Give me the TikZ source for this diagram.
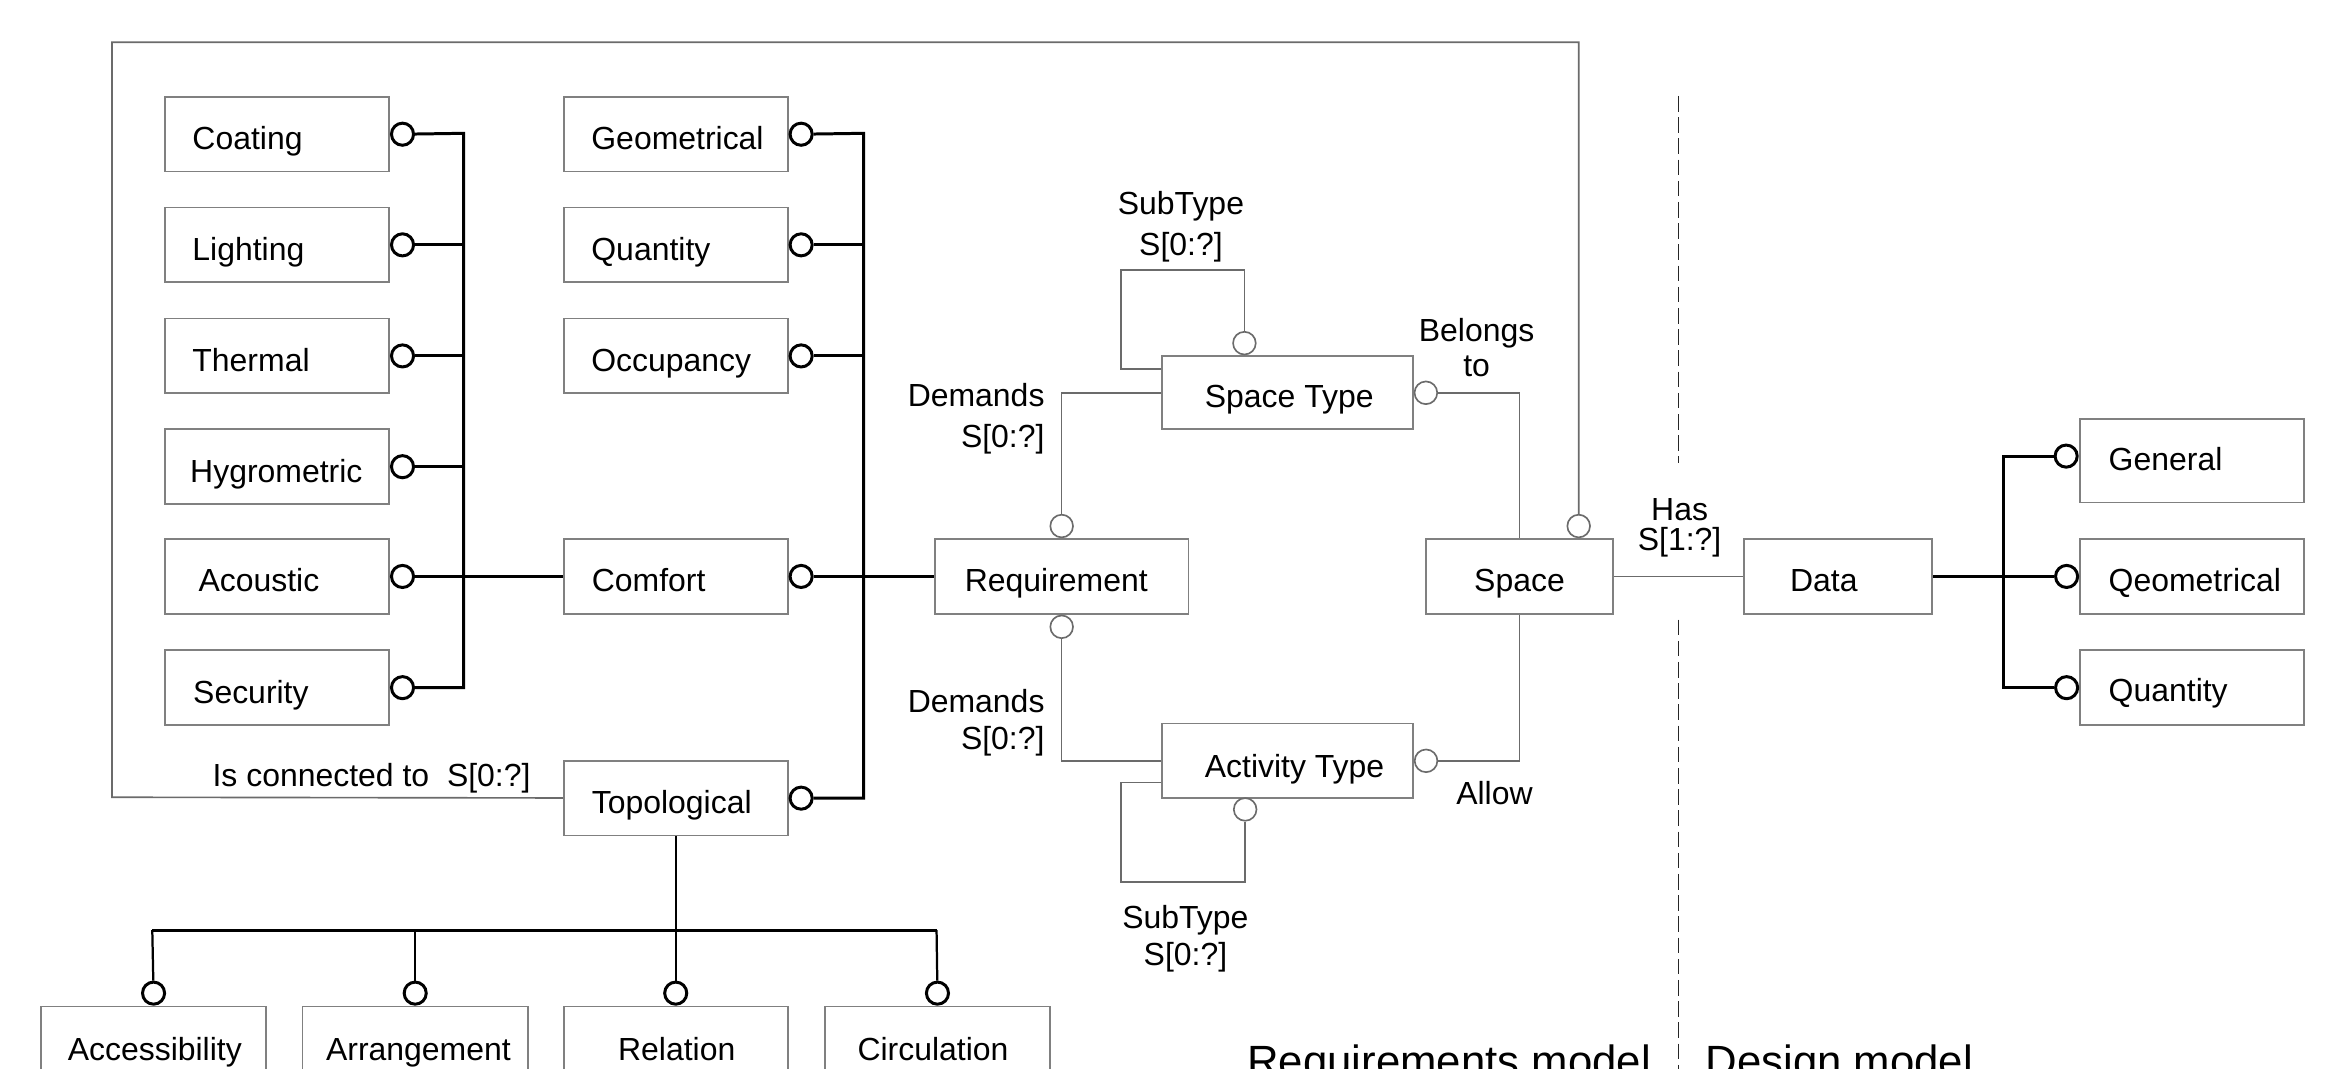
\documentclass[tikz,border=0pt]{standalone}
\usepackage{fontspec}
\setmainfont{Liberation Sans}
\usetikzlibrary{positioning}
\definecolor{boxgray}{gray}{0.5}
\definecolor{linegray}{gray}{0.42}
\begin{document}
\begin{tikzpicture}[x=0.5pt,y=-0.5pt,
  box/.style={draw=boxgray, line width=0.6pt, minimum height=25pt, inner sep=0pt, anchor=north west},
  txt/.style={anchor=base west, inner sep=0pt, font=\fontsize{10.7pt}{13pt}\selectfont},
  lblc/.style={anchor=base, inner sep=0pt, font=\fontsize{10.7pt}{13pt}\selectfont},
  lblr/.style={anchor=base east, inner sep=0pt, font=\fontsize{10.7pt}{13pt}\selectfont},
  bigtxt/.style={anchor=base west, inner sep=0pt, font=\fontsize{14.65pt}{17pt}\selectfont},
  ocb/.style={circle, draw=black, line width=1pt, fill=white, minimum size=7.4pt, inner sep=0pt},
  ocg/.style={circle, draw=linegray, line width=0.55pt, fill=white, minimum size=7.6pt, inner sep=0pt},
  thk/.style={line width=1pt, black},
  med/.style={line width=0.75pt, black},
  thn/.style={line width=0.55pt, linegray},
  dsh/.style={line width=0.45pt, black!85, dash pattern=on 5.2pt off 1.9pt},
]
\clip (0,0) rectangle (1568,716);
\fill[white] (0,0) rectangle (1568,716);

% ---------------- boxes ----------------
\node[box, minimum width=75pt] (coat) at (110,64.3) {};
\node[box, minimum width=75pt] (ligh) at (110,138.4) {};
\node[box, minimum width=75pt] (ther) at (110,212.8) {};
\node[box, minimum width=75pt] (hygr) at (110,287) {};
\node[box, minimum width=75pt] (acou) at (110,360.5) {};
\node[box, minimum width=75pt] (secu) at (110,435) {};

\node[box, minimum width=75pt] (geom) at (377,64.3) {};
\node[box, minimum width=75pt] (quan) at (377,138.4) {};
\node[box, minimum width=75pt] (occu) at (377,212.8) {};
\node[box, minimum width=75pt] (comf) at (377,360.5) {};
\node[box, minimum width=75pt] (topo) at (377,509) {};

\node[box, minimum width=85pt] (req) at (625.5,360.5) {};
\node[box, minimum width=84pt, minimum height=24.5pt] (stype) at (777.7,238) {};
\node[box, minimum width=84pt] (atype) at (777.8,484) {};
\node[box, minimum width=62.65pt] (space) at (954.5,360.5) {};
\node[box, minimum width=63pt] (data) at (1167.6,360.5) {};

\node[box, minimum width=75pt, minimum height=28pt] (gene) at (1392.6,280) {};
\node[box, minimum width=75pt] (qeom) at (1392.6,360.5) {};
\node[box, minimum width=75pt] (rqua) at (1392.6,435) {};

\node[box, minimum width=75.25pt] (acce) at (27,673.6) {};
\node[box, minimum width=75.5pt] (arra) at (202,673.6) {};
\node[box, minimum width=75pt] (rela) at (377,673.6) {};
\node[box, minimum width=75.3pt] (circ) at (552,673.6) {};

% ---------------- box texts ----------------
\node[txt] (coatT) at (128.5,100.3) {Coating};
\node[txt] (lighT) at (128.5,174.4) {Lighting};
\node[txt] (therT) at (128.5,248.8) {Thermal};
\node[txt] (hygrT) at (127,323) {Hygrometric};
\node[txt] (acouT) at (132.6,396.5) {Acoustic};
\node[txt] (secuT) at (129,471) {Security};

\node[txt] (geomT) at (395.7,100.3) {Geometrical};
\node[txt] (quanT) at (395.7,174.4) {Quantity};
\node[txt] (occuT) at (395.7,248.8) {Occupancy};
\node[txt] (comfT) at (396,396.5) {Comfort};
\node[txt] (topoT) at (396,545) {Topological};

\node[txt] (reqT) at (645.8,396.5) {Requirement};
\node[txt] (stypeT) at (806.6,273) {Space Type};
\node[txt] (atypeT) at (806.6,521) {Activity Type};
\node[txt] (spaceT) at (987,396.5) {Space};
\node[txt] (dataT) at (1198.6,396.5) {Data};

\node[txt] (geneT) at (1412,315) {General};
\node[txt] (qeomT) at (1412,396.4) {Qeometrical};
\node[txt] (rquaT) at (1412,470) {Quantity};

\node[txt] (acceT) at (45,710) {Accessibility};
\node[txt] (arraT) at (218,710) {Arrangement};
\node[txt] (relaT) at (413.6,710) {Relation};
\node[txt] (circT) at (574,710) {Circulation};

% ---------------- circles ----------------
\node[ocb, right=0pt of coat] (cCoat) {};
\node[ocb, right=0pt of ligh] (cLigh) {};
\node[ocb, right=0pt of ther] (cTher) {};
\node[ocb, right=0pt of hygr] (cHygr) {};
\node[ocb, right=0pt of acou] (cAcou) {};
\node[ocb, right=0pt of secu] (cSecu) {};

\node[ocb, right=0pt of geom] (cGeom) {};
\node[ocb, right=0pt of quan] (cQuan) {};
\node[ocb, right=0pt of occu] (cOccu) {};
\node[ocb, right=0pt of comf] (cComf) {};
\node[ocb, right=0pt of topo] (cTopo) {};

\node[ocb, anchor=east] (cGene) at (1392.3,305.5) {};
\node[ocb, left=0pt of qeom] (cQeom) {};
\node[ocb, left=0pt of rqua] (cRqua) {};

\node[ocb, above=0pt of acce] (cAcce) {};
\node[ocb, above=0pt of arra] (cArra) {};
\node[ocb, above=0pt of rela] (cRela) {};
\node[ocb, above=0pt of circ] (cCirc) {};

\node[ocg, above=0pt of req] (cReqT) {};
\node[ocg, below=0pt of req] (cReqB) {};
\node[ocg, anchor=south] (cStT) at (833.5,238) {};
\node[ocg, right=0pt of stype] (cStR) {};
\node[ocg, anchor=north] (cAtB) at (834,534) {};
\node[ocg, right=0pt of atype] (cAtR) {};
\node[ocg, anchor=south] (cSpT) at (1057.4,360.5) {};

% ---------------- coordinates ----------------
\coordinate (bL) at (310.5,89.3);
\coordinate (bM) at (578.5,89.3);
\coordinate (bR) at (1342,385.5);
\coordinate (busL) at (102,623);
\coordinate (busR) at (627.3,623);
\coordinate (frBL) at (75,534);
\coordinate (frTL) at (75,28.3);
\coordinate (frTR) at (1057.4,28.3);
\coordinate (stSubA) at (777.7,247);
\coordinate (stSubL) at (751,181);
\coordinate (atSubA) at (777.8,524);
\coordinate (atSubL) at (751,590.6);
\coordinate (dA) at (1124.3,64.3);
\coordinate (dB) at (1124.3,310);
\coordinate (dC) at (1124.3,415);
\coordinate (dD) at (1124.3,730);

% ---------------- thick brackets ----------------
\draw[thk] (cCoat) -- (bL) -- (bL |- cSecu) -- (cSecu);
\draw[thk] (cLigh) -- (cLigh -| bL);
\draw[thk] (cTher) -- (cTher -| bL);
\draw[thk] (cHygr) -- (cHygr -| bL);
\draw[thk] (cAcou) -- (comf);

\draw[thk] (cGeom) -- (bM) -- (bM |- cTopo) -- (cTopo);
\draw[thk] (cQuan) -- (cQuan -| bM);
\draw[thk] (cOccu) -- (cOccu -| bM);
\draw[thk] (cComf) -- (req);

\draw[thk] (data) -- (cQeom);
\draw[thk] (cGene) -- (cGene -| bR) -- (cRqua -| bR) -- (cRqua);

\draw[med] (topo) -- (topo.south |- busL);
\draw[thk] (busL) -- (busR);
\draw[med] (busL) -- (cAcce);
\draw[med] (cArra |- busL) -- (cArra);
\draw[med] (cRela |- busL) -- (cRela);
\draw[med] (busR) -- (cCirc);

% ---------------- thin connectors ----------------
\draw[thn] (topo) -- (frBL) -- (frTL) -- (frTR) -- (cSpT);
\draw[thn] (cReqT) |- (stype);
\draw[thn] (cReqB) |- (atype);
\draw[thn] (stSubA) -| (stSubL) -| (cStT);
\draw[thn] (atSubA) -| (atSubL) -| (cAtB);
\draw[thn] (cStR) -| (space);
\draw[thn] (cAtR) -| (space);
\draw[thn] (space) -- (data);

\draw[dsh] (dA) -- (dB);
\draw[dsh] (dC) -- (dD);

% ---------------- labels ----------------
\node[txt] (isconn) at (142,527) {Is connected to~~S[0:?]};
\node[lblr] (dem1a) at (700,272.6) {Demands};
\node[lblr] (dem1b) at (700,299.5) {S[0:?]};
\node[lblr] (dem2a) at (700,477.5) {Demands};
\node[lblr] (dem2b) at (700,502) {S[0:?]};
\node[lblc] (sub1a) at (791,144) {SubType};
\node[lblc] (sub1b) at (791,171) {S[0:?]};
\node[lblc] (sub2a) at (794,622) {SubType};
\node[lblc] (sub2b) at (794,647) {S[0:?]};
\node[lblc] (bel1) at (989,228.5) {Belongs};
\node[lblc] (bel2) at (989,252) {to};
\node[txt] (allow) at (975,539) {Allow};
\node[lblc] (has1) at (1125,348.5) {Has};
\node[lblc] (has2) at (1125,368.5) {S[1:?]};

\node[bigtxt] (reqmod) at (835,721) {Requirements model};
\node[bigtxt] (desmod) at (1142,721) {Design model};
\end{tikzpicture}
\end{document}
